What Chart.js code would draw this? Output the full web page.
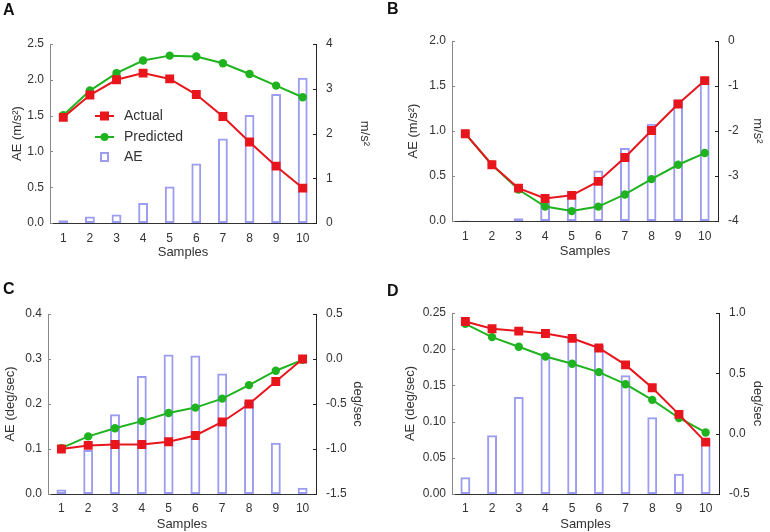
<!DOCTYPE html>
<html>
<head>
<meta charset="utf-8">
<script src="https://cdn.jsdelivr.net/npm/chart.js@4.4.1/dist/chart.umd.min.js"></script>
<style>
body{margin:0;background:#fff;width:770px;height:532px;position:relative;overflow:hidden;font-family:"Liberation Sans",Arial,sans-serif}
.pn{position:absolute;width:385px;height:266px}
.lbl{position:absolute;font:bold 16px "Liberation Sans",Arial,sans-serif;color:#111}
</style>
</head>
<body>
<div class="pn" style="left:0;top:0"><canvas id="cA"></canvas></div>
<div class="pn" style="left:385px;top:0"><canvas id="cB"></canvas></div>
<div class="pn" style="left:0;top:266px"><canvas id="cC"></canvas></div>
<div class="pn" style="left:385px;top:266px"><canvas id="cD"></canvas></div>
<div class="lbl" style="left:3px;top:1px">A</div>
<div class="lbl" style="left:387px;top:0px">B</div>
<div class="lbl" style="left:3px;top:280px">C</div>
<div class="lbl" style="left:387px;top:282px">D</div>
<script>
const samples = ['1','2','3','4','5','6','7','8','9','10'];

// panel A (m/s^2)
const aeA   = [0.04, 0.09, 0.12, 0.28, 0.51, 0.83, 1.18, 1.51, 1.80, 2.03];
const actA  = [2.36, 2.86, 3.20, 3.35, 3.22, 2.87, 2.38, 1.81, 1.27, 0.78];
const predA = [2.41, 2.96, 3.35, 3.63, 3.74, 3.72, 3.57, 3.33, 3.07, 2.81];
// panel B (m/s^2)
const aeB   = [0.005, 0, 0.03, 0.20, 0.33, 0.56, 0.81, 1.08, 1.35, 1.60];
const actB  = [-2.06, -2.75, -3.27, -3.50, -3.43, -3.12, -2.59, -1.99, -1.40, -0.88];
const predB = [-2.06, -2.75, -3.30, -3.68, -3.78, -3.68, -3.41, -3.07, -2.75, -2.49];
// panel C (deg/sec)
const aeC   = [0.010, 0.098, 0.177, 0.262, 0.310, 0.308, 0.268, 0.205, 0.114, 0.014];
const actC  = [-1.00, -0.96, -0.95, -0.95, -0.92, -0.85, -0.70, -0.50, -0.25, 0.00];
const predC = [-0.99, -0.86, -0.77, -0.69, -0.60, -0.54, -0.44, -0.29, -0.13, -0.01];
// panel D (deg/sec)
const aeD   = [0.023, 0.081, 0.134, 0.194, 0.217, 0.206, 0.164, 0.106, 0.028, 0.076];
const actD  = [0.93, 0.87, 0.85, 0.83, 0.79, 0.71, 0.57, 0.38, 0.16, -0.07];
const predD = [0.91, 0.80, 0.72, 0.64, 0.58, 0.51, 0.41, 0.28, 0.13, 0.01];

// axis ranges [min, max, step, decimals]
const leftA = [0, 2.5, 0.5, 1],   rightA = [0, 4, 1, 0];
const leftB = [0, 2.0, 0.5, 1],   rightB = [-4, 0, 1, 0];
const leftC = [0, 0.4, 0.1, 1],   rightC = [-1.5, 0.5, 0.5, 1];
const leftD = [0, 0.25, 0.05, 2], rightD = [-0.5, 1.0, 0.5, 1];

const RED='#e8161c', GREEN='#1fb41f', BAR='#9c9cf0';
const TXT='#333';
const FONT='"Liberation Sans", Arial, sans-serif';

const inTicks = {
  id:'inTicks',
  afterDraw(chart){
    const ctx=chart.ctx;
    ['y','y1'].forEach(k=>{
      const s=chart.scales[k];
      const left=k==='y';
      const x=left?s.right:s.left;
      ctx.save();
      ctx.strokeStyle=left?'#888':'#222';
      ctx.lineWidth=1;
      s.ticks.forEach((t,i)=>{
        const y=Math.round(s.getPixelForTick(i))+0.5;
        ctx.beginPath();ctx.moveTo(x,y);ctx.lineTo(left?x+3:x-3,y);ctx.stroke();
      });
      ctx.restore();
    });
  }
};

const legendA = {
  id:'legendA',
  afterDraw(chart){
    const ctx=chart.ctx;
    const rows=[116,137,157];
    ctx.save();
    ctx.font='14px '+FONT;
    ctx.textBaseline='middle';
    chart.data.datasets.forEach((ds,i)=>{
      const y=rows[i];
      if(ds.type==='line'){
        ctx.strokeStyle=ds.borderColor;ctx.lineWidth=2;
        ctx.beginPath();ctx.moveTo(95,y);ctx.lineTo(114,y);ctx.stroke();
        ctx.fillStyle=ds.backgroundColor;
        if(ds.pointStyle==='rect') ctx.fillRect(100,y-4.5,9,9);
        else {ctx.beginPath();ctx.arc(104.5,y,4,0,Math.PI*2);ctx.fill();}
      } else {
        ctx.strokeStyle=ds.borderColor;ctx.lineWidth=2;
        ctx.strokeRect(101,y-4,7,8);
      }
      ctx.fillStyle=TXT;
      ctx.fillText(ds.label,124,y);
    });
    ctx.restore();
  }
};

function tickCb(d){ return v=>(+v).toFixed(d); }

function makeChart(id, ae, act, pred, left, right, leftTitle, rightTitle, geo, extra){
  const fix=(w)=>s=>{s.width=w;};
  return new Chart(id,{
    type:'bar',
    data:{
      labels:samples,
      datasets:[
        {type:'line',label:'Actual',data:act,yAxisID:'y1',borderColor:RED,backgroundColor:RED,
         borderWidth:2,pointStyle:'rect',pointRadius:6.3,pointBorderWidth:0,order:0},
        {type:'line',label:'Predicted',data:pred,yAxisID:'y1',borderColor:GREEN,backgroundColor:GREEN,
         borderWidth:2,pointStyle:'circle',pointRadius:4.2,pointBorderWidth:0,order:1},
        {label:'AE',data:ae,yAxisID:'y',backgroundColor:'rgba(255,255,255,0)',borderColor:BAR,
         borderWidth:2,borderSkipped:false,barPercentage:0.37,categoryPercentage:1,order:2}
      ]
    },
    options:{
      responsive:true,maintainAspectRatio:false,animation:false,
      layout:{padding:{top:geo.top,left:0,right:0,bottom:0}},
      plugins:{legend:{display:false},tooltip:{enabled:false}},
      scales:{
        x:{
          grid:{display:false,drawTicks:false},
          border:{display:true,color:'#333',width:1},
          ticks:{color:TXT,font:{family:FONT,size:12},padding:geo.xpad,maxRotation:0},
          title:{display:true,text:'Samples',color:TXT,font:{family:FONT,size:13},padding:{top:0,bottom:geo.xt}},
          afterFit:s=>{s.height=geo.xh;}
        },
        y:{
          position:'left',min:left[0],max:left[1],
          grid:{display:false,drawTicks:false},
          border:{display:true,color:'#888',width:1},
          ticks:{stepSize:left[2],color:TXT,font:{family:FONT,size:12},padding:6,callback:tickCb(left[3])},
          title:{display:true,text:leftTitle,color:TXT,font:{family:FONT,size:13},padding:{top:geo.lt,bottom:0}},
          afterFit:fix(geo.lw)
        },
        y1:{
          position:'right',min:right[0],max:right[1],
          grid:{display:false,drawTicks:false},
          border:{display:true,color:'#222',width:1},
          ticks:{stepSize:right[2],color:TXT,font:{family:FONT,size:12},padding:10,callback:tickCb(right[3])},
          title:{display:true,text:rightTitle,color:TXT,font:{family:FONT,size:13},padding:{top:geo.rt,bottom:0}},
          afterFit:fix(geo.rw)
        }
      }
    },
    plugins:[inTicks].concat(extra||[])
  });
}

makeChart('cA',aeA,actA,predA,leftA,rightA,'AE (m/s²)','m/s²',
  {top:44,xh:43,lw:50,rw:69,lt:10,rt:13,xt:6,xpad:8},[legendA]);
makeChart('cB',aeB,actB,predB,leftB,rightB,'AE (m/s²)','m/s²',
  {top:41,xh:45,lw:67,rw:52,lt:21,rt:5,xt:7,xpad:8});
makeChart('cC',aeC,actC,predC,leftC,rightC,'AE (deg/sec)','deg/sec',
  {top:48,xh:38,lw:48,rw:69,lt:3,rt:20,xt:0,xpad:7});
makeChart('cD',aeD,actD,predD,leftD,rightD,'AE (deg/sec)','deg/sec',
  {top:47,xh:38,lw:67,rw:51,lt:18,rt:5,xt:0,xpad:7});
</script>
</body>
</html>
